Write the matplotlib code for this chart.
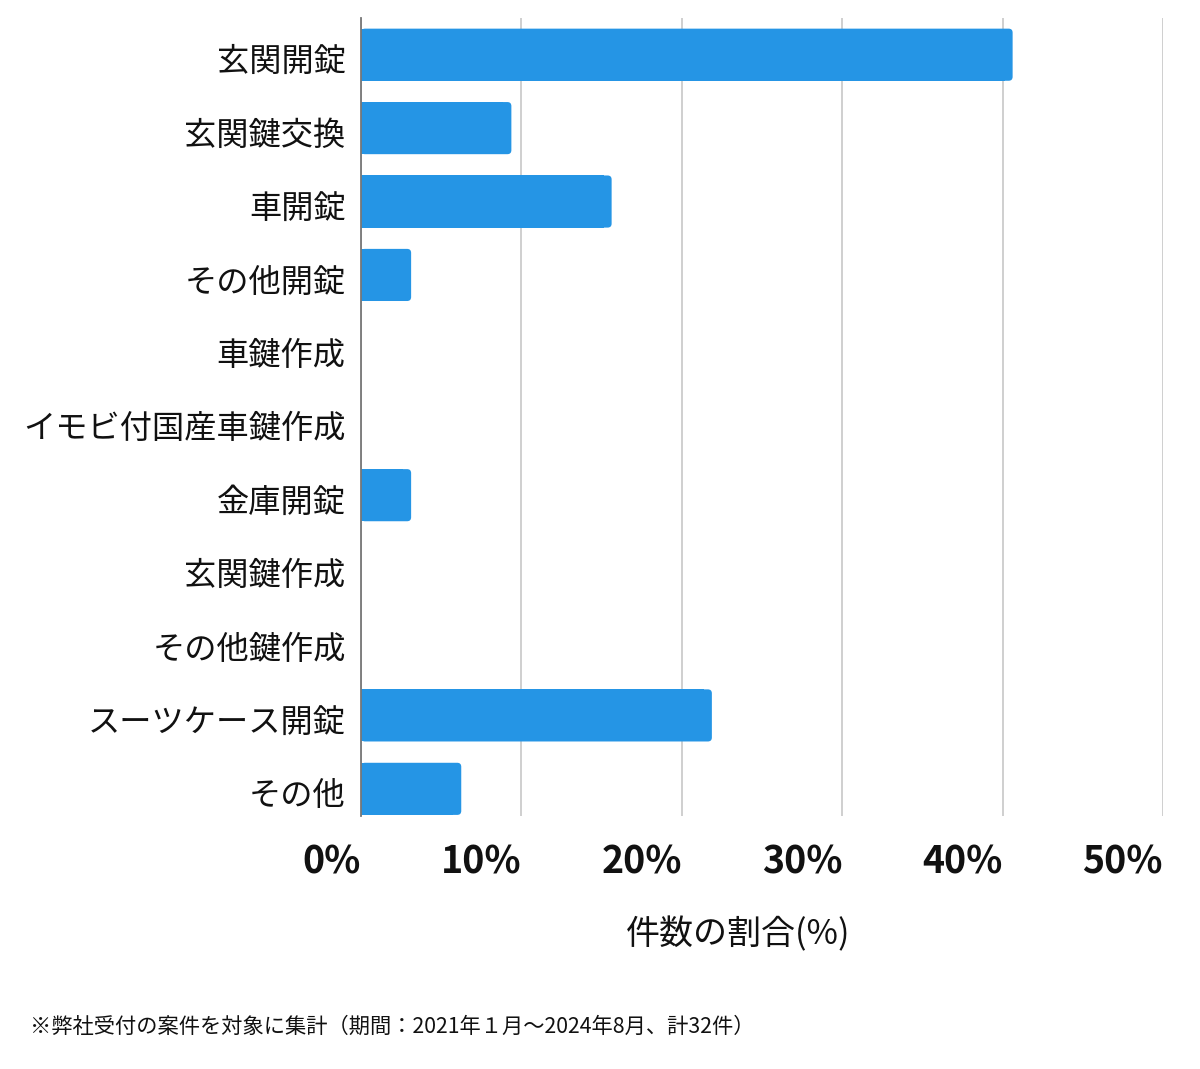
import matplotlib
matplotlib.use("Agg")
import matplotlib.pyplot as plt
from matplotlib.patches import FancyBboxPatch, Rectangle
from matplotlib.transforms import ScaledTranslation

plt.rcParams['font.family'] = ['Noto Sans CJK JP', 'DejaVu Sans']

categories = ["玄関開錠", "玄関鍵交換", "車開錠", "その他開錠", "車鍵作成",
              "イモビ付国産車鍵作成", "金庫開錠", "玄関鍵作成", "その他鍵作成",
              "スーツケース開錠", "その他"]
values = [40.625, 9.375, 15.625, 3.125, 0, 0, 3.125, 0, 0, 21.875, 6.25]
xticks = [0, 10, 20, 30, 40, 50]
xtick_labels = ["0%", "10%", "20%", "30%", "40%", "50%"]
xlabel = "件数の割合(%)"
footnote = "※弊社受付の案件を対象に集計（期間：2021年１月～2024年8月、計32件）"

W, H = 1200, 1069
fig = plt.figure(figsize=(W / 100, H / 100), dpi=100)
ax_l, ax_r, ax_t, ax_b = 361, 1163, 18, 816
ax = fig.add_axes([ax_l / W, 1 - ax_b / H, (ax_r - ax_l) / W, (ax_b - ax_t) / H])

color = "#2595e5"
bar_h = 0.71
ax.set_xlim(0, 50)
ax.set_ylim(10.37, -0.5)

px_x = (ax_r - ax_l) / 50.0
px_y = (ax_b - ax_t) / 10.87
r_px = 4.0
for i, v in enumerate(values):
    if v <= 0:
        continue
    y0 = i - bar_h / 2
    r = r_px / px_x
    box = FancyBboxPatch((0, y0), v, bar_h,
                         boxstyle=f"round,pad=0,rounding_size={r}",
                         mutation_aspect=px_x / px_y,
                         facecolor=color, edgecolor="none", zorder=3)
    ax.add_patch(box)
    ax.add_patch(Rectangle((0, y0), v - 2 * r, bar_h, facecolor=color,
                           edgecolor="none", antialiased=False, zorder=3))

ax.set_yticks(range(len(categories)))
ax.set_yticklabels(categories, fontsize=23.2, color="#111111")
ax.set_xticks(xticks)
ax.set_xticklabels(xtick_labels, fontsize=27, fontweight="bold", color="#111111", ha="right")
ax.tick_params(axis="both", length=0)
ax.tick_params(axis="y", pad=11)
ax.tick_params(axis="x", pad=19)
for lab in ax.get_yticklabels():
    lab.set_transform(lab.get_transform() + ScaledTranslation(0, -4 / 100, fig.dpi_scale_trans))

ax.grid(axis="x", color="#cccccc", linewidth=1.3, zorder=0)
ax.set_axisbelow(True)
for s in ["top", "right", "bottom"]:
    ax.spines[s].set_visible(False)
ax.spines["left"].set_color("#777777")
ax.spines["left"].set_linewidth(1.3)
ax.spines["left"].set_zorder(4)

fig.text(738 / W, 1 - 935 / H, xlabel, fontsize=24.5, ha="center", va="center", color="#111111")
fig.text(30 / W, 1 - 1027 / H, footnote, fontsize=15.3, ha="left", va="center", color="#111111")

fig.savefig("out.png", dpi=100, facecolor="white")
